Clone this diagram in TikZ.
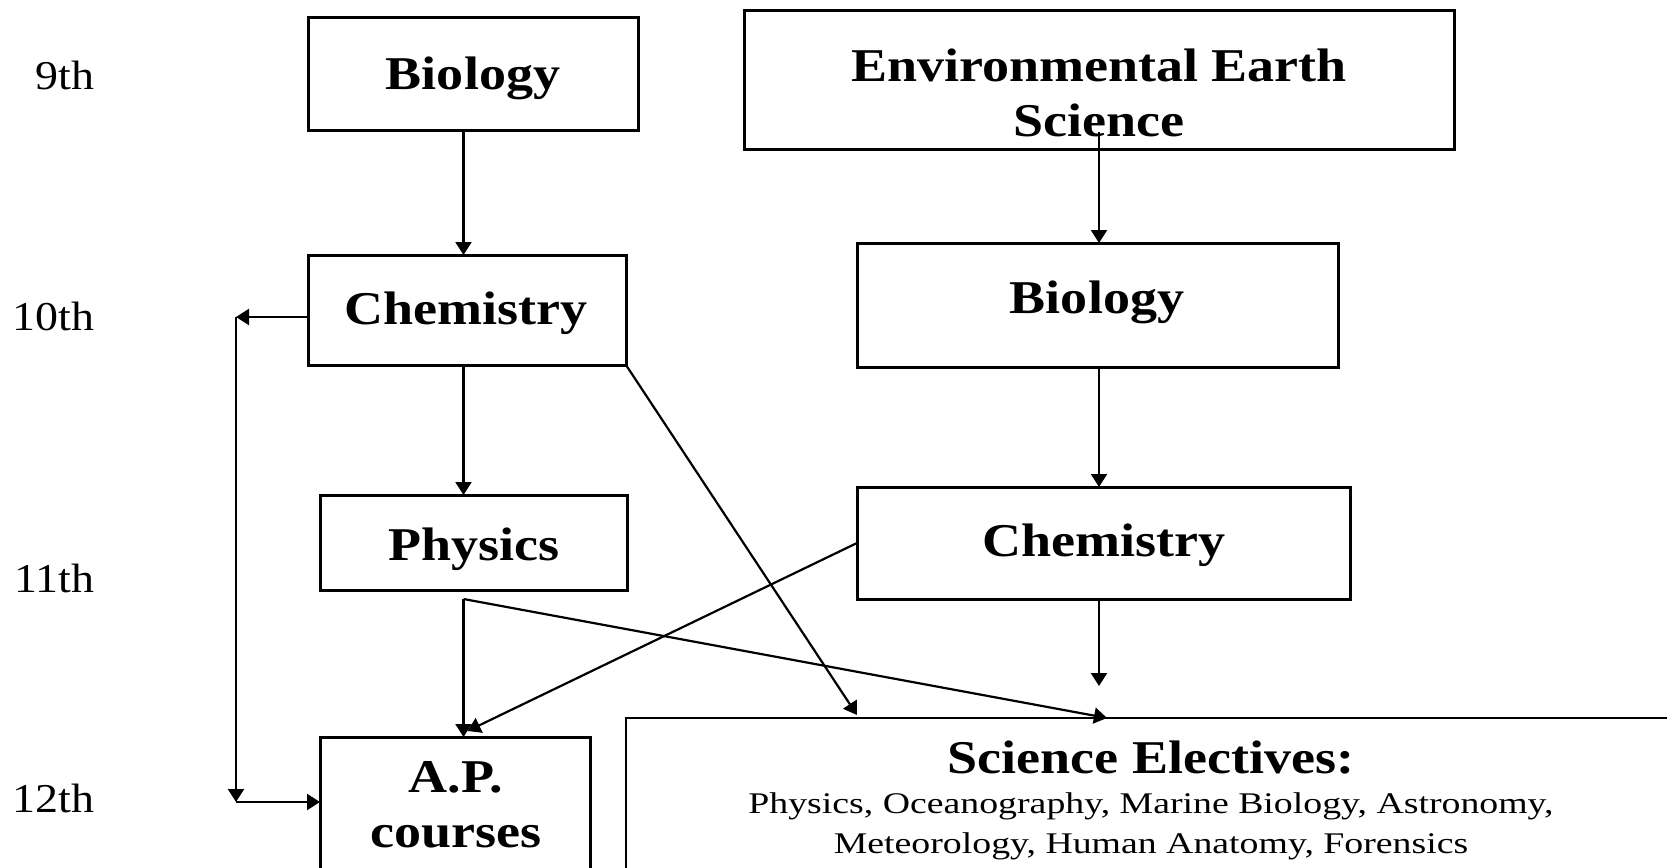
\documentclass[tikz,border=0pt]{standalone}
\usepackage{fontspec}
\setmainfont{Liberation Serif}
\newfontfamily\boxfont[FakeStretch=1.15]{Liberation Serif}
\newfontfamily\gradefont[FakeStretch=1.12]{Liberation Serif}
\newfontfamily\listfont[FakeStretch=1.26]{Liberation Serif}
\usetikzlibrary{arrows.meta,calc}
\newcommand\twolines[2]{\vtop{\halign{\hfil##\hfil\cr#1\cr#2\cr}}}
\newcommand\threelines[3]{\vtop{\baselineskip=20pt\lineskiplimit=-100pt\halign{\hfil##\hfil\cr#1\cr#2\cr#3\cr}}}
\tikzset{
  box/.style={draw, line width=1.5pt, rectangle, inner sep=0pt, outer sep=0pt},
  lbl/.style={anchor=base, inner sep=0pt, font=\boxfont\bfseries\fontsize{23.5}{27.5}\selectfont},
  grade/.style={anchor=base east, inner sep=0pt, font=\gradefont\fontsize{20.5}{24}\selectfont},
  arr/.style={line width=1.1pt, -{Triangle[length=6.5pt,width=8pt]}},
}
\begin{document}
\begin{tikzpicture}[x=0.5pt,y=-0.5pt]
\useasboundingbox (0,0) rectangle (1667,868);
\clip (0,0) rectangle (1667,868);
\fill[white] (0,0) rectangle (1667,868);

% grade labels
\node[grade] (g9)  at (95,89)  {9th};
\node[grade] (g10) at (95,330) {10th};
\node[grade] (g11) at (95,592) {11th};
\node[grade] (g12) at (95,812) {12th};

% boxes
\node[box, minimum width=165pt,   minimum height=56.5pt] (bioL)  at (473,73.5)   {};
\node[box, minimum width=159pt,   minimum height=55pt]   (chemL) at (467,310)    {};
\node[box, minimum width=153.5pt, minimum height=47.5pt] (phys)  at (473.5,542.5){};
\node[box, minimum width=135pt,   minimum height=81.5pt] (ap)    at (455,818.5)  {};
\node[box, minimum width=355pt,   minimum height=69.5pt] (env)   at (1099,79.5)  {};
\node[box, minimum width=240.5pt, minimum height=62pt]   (bioR)  at (1097.5,305) {};
\node[box, minimum width=246.5pt, minimum height=56pt]   (chemR) at (1103.5,543) {};
\node[box, line width=1.3pt, minimum width=525pt, minimum height=91pt] (elect) at (1151,809) {};

% texts
\node[lbl] (bioLt)  at (473,89)   {Biology};
\node[lbl] (chemLt) at (466,324)  {Chemistry};
\node[lbl] (physt)  at (474,560)  {Physics};
\node[lbl] (apt)    at (456,792)  {\twolines{A.P.}{courses}};
\node[lbl] (envt)   at (1099,81)  {\twolines{Environmental Earth}{Science}};
\node[lbl] (bioRt)  at (1097,313) {Biology};
\node[lbl] (chemRt) at (1104,556) {Chemistry};
\node[anchor=base, inner sep=0pt] (electt) at (1151,773) {\threelines
  {\boxfont\bfseries\fontsize{23.5}{27.5}\selectfont Science Electives:}
  {\listfont\fontsize{15}{20}\selectfont Physics, Oceanography, Marine Biology, Astronomy,}
  {\listfont\fontsize{15}{20}\selectfont Meteorology, Human Anatomy, Forensics}};

% helper coordinates
\coordinate (colL) at (463.5,0);
\coordinate (colR) at (1099,0);
\coordinate (pb)   at ($(phys.south -| colL)+(0,9)$);
\coordinate (c1)   at (236,317);
\coordinate (c2)   at (236,802);
\coordinate (rEnd) at (1099,686);

% left column
\draw[arr] (bioL.south -| colL) -- (chemL.north -| colL);
\draw[arr] (chemL.south -| colL) -- (phys.north -| colL);
\draw[arr] (pb) -- (ap.north -| colL);
\draw[arr] (pb) -- ($(elect.north west)+(481,0)$);
\draw[arr] (chemL.south east) -- ($(elect.north west)+(231,-3)$);

% bypass
\draw[arr] (chemL.west |- c1) -- (c1);
\draw[arr] (c1) -- (c2);
\draw[arr] (c2) -- (ap.west |- c2);

% right column
\draw[arr] ($(env.south -| colR)+(0,-17)$) -- (bioR.north -| colR);
\draw[arr] (bioR.south -| colR) -- (chemR.north -| colR);
\draw[arr] (chemR.south -| colR) -- (rEnd);
\draw[arr] (chemR.west) -- ($(ap.north -| colL)+(4,-6)$);
\end{tikzpicture}
\end{document}
